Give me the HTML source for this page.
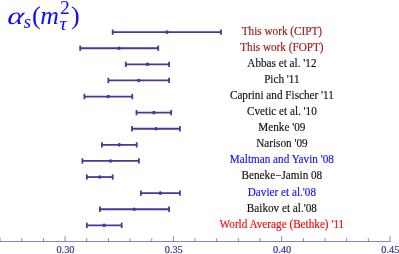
<!DOCTYPE html>
<html><head><meta charset="utf-8"><title>alpha_s</title>
<style>
html,body{margin:0;padding:0;background:#fff;}
body{width:399px;height:254px;overflow:hidden;position:relative;font-family:"Liberation Serif",serif;}
svg{position:absolute;left:0;top:0;display:block;will-change:transform;}
text{font-family:"Liberation Serif",serif;}
</style></head><body>
<svg width="399" height="254" viewBox="0 0 399 254">

<g stroke="#3f3d99" stroke-opacity="0.62" stroke-width="1" fill="none">
<line x1="0" y1="241.5" x2="390.40" y2="241.5"/>
<line x1="0.12" y1="241.5" x2="0.12" y2="238.2"/>
<line x1="21.78" y1="241.5" x2="21.78" y2="238.2"/>
<line x1="43.44" y1="241.5" x2="43.44" y2="238.2"/>
<line x1="65.10" y1="241.5" x2="65.10" y2="236.1"/>
<line x1="86.76" y1="241.5" x2="86.76" y2="238.2"/>
<line x1="108.42" y1="241.5" x2="108.42" y2="238.2"/>
<line x1="130.08" y1="241.5" x2="130.08" y2="238.2"/>
<line x1="151.74" y1="241.5" x2="151.74" y2="238.2"/>
<line x1="173.40" y1="241.5" x2="173.40" y2="236.1"/>
<line x1="195.06" y1="241.5" x2="195.06" y2="238.2"/>
<line x1="216.72" y1="241.5" x2="216.72" y2="238.2"/>
<line x1="238.38" y1="241.5" x2="238.38" y2="238.2"/>
<line x1="260.04" y1="241.5" x2="260.04" y2="238.2"/>
<line x1="281.70" y1="241.5" x2="281.70" y2="236.1"/>
<line x1="303.36" y1="241.5" x2="303.36" y2="238.2"/>
<line x1="325.02" y1="241.5" x2="325.02" y2="238.2"/>
<line x1="346.68" y1="241.5" x2="346.68" y2="238.2"/>
<line x1="368.34" y1="241.5" x2="368.34" y2="238.2"/>
<line x1="390.00" y1="241.5" x2="390.00" y2="236.1"/>
</g>
<text transform="translate(65.45,252.9) scale(0.93,1)" font-size="11.1" text-anchor="middle" fill="#34328f" stroke="#34328f" stroke-width="0.2">0.30</text>
<text transform="translate(173.75,252.9) scale(0.93,1)" font-size="11.1" text-anchor="middle" fill="#34328f" stroke="#34328f" stroke-width="0.2">0.35</text>
<text transform="translate(282.05,252.9) scale(0.93,1)" font-size="11.1" text-anchor="middle" fill="#34328f" stroke="#34328f" stroke-width="0.2">0.40</text>
<text transform="translate(390.35,252.9) scale(0.93,1)" font-size="11.1" text-anchor="middle" fill="#34328f" stroke="#34328f" stroke-width="0.2">0.45</text>
<g stroke="#3f3d99" stroke-width="1.8" fill="none">
<line x1="112.7" y1="32.15" x2="221.0" y2="32.15"/>
<line x1="112.7" y1="29.50" x2="112.7" y2="34.80"/>
<line x1="221.0" y1="29.50" x2="221.0" y2="34.80"/>
<line x1="80.2" y1="48.25" x2="158.2" y2="48.25"/>
<line x1="80.2" y1="45.60" x2="80.2" y2="50.90"/>
<line x1="158.2" y1="45.60" x2="158.2" y2="50.90"/>
<line x1="125.8" y1="64.35" x2="169.1" y2="64.35"/>
<line x1="125.8" y1="61.70" x2="125.8" y2="67.00"/>
<line x1="169.1" y1="61.70" x2="169.1" y2="67.00"/>
<line x1="108.3" y1="80.45" x2="169.1" y2="80.45"/>
<line x1="108.3" y1="77.80" x2="108.3" y2="83.10"/>
<line x1="169.1" y1="77.80" x2="169.1" y2="83.10"/>
<line x1="84.4" y1="96.55" x2="132.3" y2="96.55"/>
<line x1="84.4" y1="93.90" x2="84.4" y2="99.20"/>
<line x1="132.3" y1="93.90" x2="132.3" y2="99.20"/>
<line x1="136.5" y1="112.65" x2="171.1" y2="112.65"/>
<line x1="136.5" y1="110.00" x2="136.5" y2="115.30"/>
<line x1="171.1" y1="110.00" x2="171.1" y2="115.30"/>
<line x1="132.0" y1="128.75" x2="179.9" y2="128.75"/>
<line x1="132.0" y1="126.10" x2="132.0" y2="131.40"/>
<line x1="179.9" y1="126.10" x2="179.9" y2="131.40"/>
<line x1="101.9" y1="144.85" x2="136.7" y2="144.85"/>
<line x1="101.9" y1="142.20" x2="101.9" y2="147.50"/>
<line x1="136.7" y1="142.20" x2="136.7" y2="147.50"/>
<line x1="82.4" y1="160.95" x2="138.9" y2="160.95"/>
<line x1="82.4" y1="158.30" x2="82.4" y2="163.60"/>
<line x1="138.9" y1="158.30" x2="138.9" y2="163.60"/>
<line x1="86.8" y1="177.05" x2="112.7" y2="177.05"/>
<line x1="86.8" y1="174.40" x2="86.8" y2="179.70"/>
<line x1="112.7" y1="174.40" x2="112.7" y2="179.70"/>
<line x1="140.9" y1="193.15" x2="179.9" y2="193.15"/>
<line x1="140.9" y1="190.50" x2="140.9" y2="195.80"/>
<line x1="179.9" y1="190.50" x2="179.9" y2="195.80"/>
<line x1="99.9" y1="209.25" x2="169.1" y2="209.25"/>
<line x1="99.9" y1="206.60" x2="99.9" y2="211.90"/>
<line x1="169.1" y1="206.60" x2="169.1" y2="211.90"/>
<line x1="86.8" y1="225.35" x2="121.7" y2="225.35"/>
<line x1="86.8" y1="222.70" x2="86.8" y2="228.00"/>
<line x1="121.7" y1="222.70" x2="121.7" y2="228.00"/>
</g>
<g fill="#3f3d99">
<circle cx="167.0" cy="32.15" r="1.8"/>
<circle cx="119.1" cy="48.25" r="1.8"/>
<circle cx="147.4" cy="64.35" r="1.8"/>
<circle cx="138.7" cy="80.45" r="1.8"/>
<circle cx="108.3" cy="96.55" r="1.8"/>
<circle cx="153.9" cy="112.65" r="1.8"/>
<circle cx="156.1" cy="128.75" r="1.8"/>
<circle cx="119.3" cy="144.85" r="1.8"/>
<circle cx="110.5" cy="160.95" r="1.8"/>
<circle cx="99.7" cy="177.05" r="1.8"/>
<circle cx="160.3" cy="193.15" r="1.8"/>
<circle cx="134.2" cy="209.25" r="1.8"/>
<circle cx="104.1" cy="225.35" r="1.8"/>
</g>
<text transform="translate(281.9,34.55) scale(0.975,1)" font-size="11.5" text-anchor="middle" fill="#a01818" stroke="#a01818" stroke-width="0.15">This work (CIPT)</text>
<text transform="translate(281.9,50.65) scale(0.975,1)" font-size="11.5" text-anchor="middle" fill="#a01818" stroke="#a01818" stroke-width="0.15">This work (FOPT)</text>
<text transform="translate(281.9,66.75) scale(0.975,1)" font-size="11.5" text-anchor="middle" fill="#111" stroke="#111" stroke-width="0.15">Abbas et al. '12</text>
<text transform="translate(281.9,82.85) scale(0.975,1)" font-size="11.5" text-anchor="middle" fill="#111" stroke="#111" stroke-width="0.15">Pich '11</text>
<text transform="translate(281.9,98.95) scale(0.975,1)" font-size="11.5" text-anchor="middle" fill="#111" stroke="#111" stroke-width="0.15">Caprini and Fischer '11</text>
<text transform="translate(281.9,115.05) scale(0.975,1)" font-size="11.5" text-anchor="middle" fill="#111" stroke="#111" stroke-width="0.15">Cvetic et al. '10</text>
<text transform="translate(281.9,131.15) scale(0.975,1)" font-size="11.5" text-anchor="middle" fill="#111" stroke="#111" stroke-width="0.15">Menke '09</text>
<text transform="translate(281.9,147.25) scale(0.975,1)" font-size="11.5" text-anchor="middle" fill="#111" stroke="#111" stroke-width="0.15">Narison '09</text>
<text transform="translate(281.9,163.35) scale(0.975,1)" font-size="11.5" text-anchor="middle" fill="#1010f8" stroke="#1010f8" stroke-width="0.15">Maltman and Yavin '08</text>
<text transform="translate(281.9,179.45) scale(0.975,1)" font-size="11.5" text-anchor="middle" fill="#111" stroke="#111" stroke-width="0.15">Beneke−Jamin 08</text>
<text transform="translate(281.9,195.55) scale(0.975,1)" font-size="11.5" text-anchor="middle" fill="#1010f8" stroke="#1010f8" stroke-width="0.15">Davier et al.'08</text>
<text transform="translate(281.9,211.65) scale(0.975,1)" font-size="11.5" text-anchor="middle" fill="#111" stroke="#111" stroke-width="0.15">Baikov et al.'08</text>
<text transform="translate(281.9,227.75) scale(0.975,1)" font-size="11.5" text-anchor="middle" fill="#f80808" stroke="#f80808" stroke-width="0.15">World Average (Bethke) '11</text>
<text transform="translate(6.7,24.2) skewX(-8) scale(1.26,1)" font-size="24.5" font-style="italic" fill="#0c0cf6">α</text>
<text transform="translate(23.6,28.4) skewX(0) scale(1.0,1)" font-size="19.5" font-style="italic" fill="#0c0cf6">s</text>
<text transform="translate(32.0,24.2) skewX(0) scale(1.0,1)" font-size="26.2" font-style="normal" fill="#0c0cf6">(</text>
<text transform="translate(40.3,24.2) skewX(0) scale(1.0,1)" font-size="25.8" font-style="italic" fill="#0c0cf6">m</text>
<text transform="translate(59.9,13.6) skewX(0) scale(1.0,1)" font-size="19.5" font-style="normal" fill="#0c0cf6">2</text>
<text transform="translate(59.6,30.0) skewX(0) scale(1.1,1)" font-size="18.5" font-style="italic" fill="#0c0cf6">τ</text>
<text transform="translate(71.1,24.2) skewX(0) scale(1.0,1)" font-size="26.2" font-style="normal" fill="#0c0cf6">)</text>
</svg></body></html>
